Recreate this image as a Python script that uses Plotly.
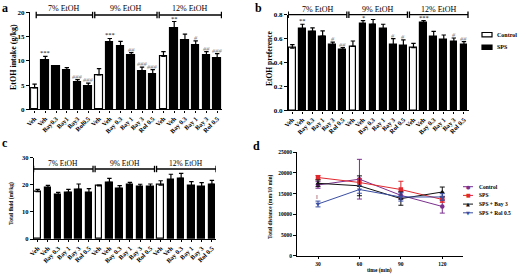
import plotly.graph_objects as go

W, H = 520, 275

# ---------------- data ----------------
labels_first = ["Veh", "Veh", "Bay0.3", "Bay1", "Bay3", "Rol0.5"]
labels_grp = ["Veh", "Veh", "Bay 0.3", "Bay 1", "Bay 3", "Rol 0.5"]
groups = ["7% EtOH", "9% EtOH", "12% EtOH"]
control_idx = [0, 6, 12]

intake = [4.4, 10.2, 8.8, 8.0, 5.5, 4.7, 7.1, 13.9, 13.0, 11.2, 7.9, 7.3, 10.9, 16.8, 14.3, 13.1, 11.2, 10.5]
intake_err = [0.8, 0.7, 0.2, 0.6, 0.6, 0.7, 1.3, 0.7, 1.0, 0.5, 0.8, 0.9, 1.0, 1.3, 1.2, 1.0, 0.7, 1.0]
intake_sig = ["", "***", "", "", "###", "###", "", "***", "", "##", "###", "###", "", "**", "", "#", "##", "###"]

pref = [0.52, 0.68, 0.66, 0.62, 0.545, 0.505, 0.535, 0.725, 0.72, 0.68, 0.55, 0.54, 0.525, 0.73, 0.615, 0.59, 0.575, 0.545]
pref_err = [0.03, 0.04, 0.03, 0.045, 0.025, 0.02, 0.045, 0.025, 0.04, 0.04, 0.05, 0.05, 0.035, 0.02, 0.045, 0.04, 0.03, 0.03]
pref_sig = ["", "**", "", "", "#", "##", "", "*", "", "", "#", "#", "", "***", "", "", "#", "##"]

fluid = [17.5, 18.8, 16.2, 17.2, 18.3, 17.0, 19.6, 20.9, 18.7, 19.9, 19.3, 19.3, 19.9, 21.8, 22.4, 19.7, 19.3, 20.2]
fluid_err = [0.8, 1.0, 1.0, 1.1, 2.0, 1.6, 0.3, 1.5, 1.0, 1.0, 0.9, 1.0, 1.6, 2.1, 1.8, 1.5, 1.5, 1.4]

times = [30, 60, 90, 120]
series_names = ["Control", "SPS", "SPS + Bay 3", "SPS + Rol 0.5"]
dist_control = [17100, 18500, 14600, 11900]
dist_control_err = [800, 4800, 900, 1600]
dist_sps = [18900, 17700, 16000, 13600]
dist_sps_err = [500, 900, 2000, 700]
dist_bay3 = [17500, 16900, 13800, 15400]
dist_bay3_err = [800, 2400, 1600, 1200]
dist_rol = [12500, 16000, 14200, 14200]
dist_rol_err = [700, 900, 1000, 800]

# ---------------- style ----------------
SERIF = "Liberation Serif"
series_colors = ["#7b2f8f", "#e0282e", "#111111", "#3a4ea3"]
series_symbols = ["circle", "square", "triangle-up", "triangle-down"]
legend_glyphs = ["●", "■", "▲", "▼"]


def px(x):
    return x / W


def py(y):
    return 1 - y / H


fig = go.Figure()
shapes = []
annotations = []

panels = [
    (intake, intake_err, intake_sig, "x", "y", 0.7),
    (pref, pref_err, pref_sig, "x2", "y2", 0.66),
    (fluid, fluid_err, None, "x3", "y3", 0.64),
]

for vals, errs, sig, xa, ya, bw in panels:
    sps_idx = [i for i in range(len(vals)) if i not in control_idx]
    for idx, col, name in [(control_idx, "white", "Control"), (sps_idx, "black", "SPS")]:
        fig.add_trace(go.Bar(
            x=idx, y=[vals[i] for i in idx], width=bw, name=name,
            marker=dict(color=col, line=dict(color="black", width=1.2)),
            error_y=dict(type="data", symmetric=False, array=[errs[i] for i in idx],
                         arrayminus=[0] * len(idx), color="black", thickness=1.2, width=2.2),
            xaxis=xa, yaxis=ya, showlegend=False,
        ))
    if sig:
        for i, s in enumerate(sig):
            if s:
                annotations.append(dict(
                    x=i, y=vals[i] + errs[i], xref=xa, yref=ya, text=s, showarrow=False,
                    xanchor="center", yanchor="bottom", yshift=-2,
                    font=dict(family=SERIF, size=6.5 if "*" in s else 6.5,
                              color="black" if "*" in s else "#808080",
                              style="normal" if "*" in s else "italic"),
                ))

# line chart panel d
dist_vals = [dist_control, dist_sps, dist_bay3, dist_rol]
dist_errs = [dist_control_err, dist_sps_err, dist_bay3_err, dist_rol_err]
for name, v, e, c, s in zip(series_names, dist_vals, dist_errs, series_colors, series_symbols):
    fig.add_trace(go.Scatter(
        x=times, y=v, mode="lines+markers", name=name,
        line=dict(color=c, width=1),
        marker=dict(color=c, symbol=s, size=4.5),
        error_y=dict(type="data", array=e, color=c, thickness=1, width=2.5),
        xaxis="x4", yaxis="y4", showlegend=False,
    ))

# ---------------- axes ----------------
axis_common = dict(showline=True, linecolor="black", linewidth=1.4, ticks="outside",
                   ticklen=3, tickwidth=1.2, tickcolor="black", showgrid=False, zeroline=False,
                   automargin=False)
tickfont = dict(family=SERIF, size=7, color="black", weight="bold")
xtickfont = dict(family=SERIF, size=6.5, color="black", weight="bold")

layout = dict(
    width=W, height=H, margin=dict(l=0, r=0, t=0, b=0),
    paper_bgcolor="white", plot_bgcolor="white", showlegend=False, bargap=0,
    xaxis=dict(domain=[px(30.1), px(222)], range=[-0.42, 17.45], tickvals=list(range(18)),
               ticktext=labels_first + labels_grp + labels_grp, tickangle=-45, tickfont=xtickfont,
               anchor="y", **{**axis_common, "ticklen": 2}),
    yaxis=dict(domain=[py(109.3), py(12.3)], range=[0, 20], tickvals=[0, 5, 10, 15, 20],
               tickfont=tickfont, anchor="x", **axis_common),
    xaxis2=dict(domain=[px(288), px(469)], range=[-0.43, 17.5], tickvals=list(range(18)),
                ticktext=labels_grp * 3, tickangle=-45, tickfont=xtickfont,
                anchor="y2", **{**axis_common, "ticklen": 2}),
    yaxis2=dict(domain=[py(110.3), py(14.7)], range=[0, 0.8], tickvals=[0, 0.2, 0.4, 0.6, 0.8],
                tickformat=".1f", tickfont=tickfont, anchor="x2", **axis_common),
    xaxis3=dict(domain=[px(34), px(216)], range=[-0.36, 17.4], tickvals=list(range(18)),
                ticktext=labels_grp * 3, tickangle=-45, tickfont=xtickfont,
                anchor="y3", **{**axis_common, "ticklen": 2}),
    yaxis3=dict(domain=[py(239), py(157.7)], range=[0, 30], tickvals=[0, 10, 20, 30],
                tickfont=dict(family=SERIF, size=6.5, color="black", weight="bold"),
                anchor="x3", **axis_common),
    xaxis4=dict(domain=[px(297.3), px(463)], range=[15, 135], tickvals=times,
                tickfont=dict(family=SERIF, size=5.5, color="black", weight="bold"),
                anchor="y4", **{**axis_common, "ticklen": 2.5}),
    yaxis4=dict(domain=[py(255.7), py(152.3)], range=[0, 25000],
                tickvals=[0, 5000, 10000, 15000, 20000, 25000], tickformat="d",
                tickfont=dict(family=SERIF, size=5.5, color="black", weight="bold"),
                anchor="x4", **axis_common),
)

# ---------------- group brackets ----------------
for xa, yline, ylab in [("x", 15.0, 8.5), ("x2", 14.7, 9.5), ("x3", 169.0, 163.5)]:
    for g, gname in enumerate(groups):
        s, e = 6 * g - 0.4, 6 * g + 5.4
        if g == 0 and xa == "x":
            s = 0.15
        shapes.append(dict(type="line", xref=xa, yref="paper", x0=s, x1=e,
                           y0=py(yline), y1=py(yline), line=dict(color="black", width=1.3)))
        for xc in (s, e):
            shapes.append(dict(type="line", xref=xa, yref="paper", x0=xc, x1=xc,
                               y0=py(yline - 3.2), y1=py(yline + 3.2),
                               line=dict(color="black", width=1.3)))
        annotations.append(dict(x=(s + e) / 2, y=py(ylab), xref=xa, yref="paper", text=gname,
                                showarrow=False, xanchor="center", yanchor="middle",
                                font=dict(family=SERIF, size=8 if xa != "x3" else 7.5, color="black")))

# ---------------- axis titles & panel letters ----------------
for text, x, y, size in [("EtOH intake (g/kg)", 13, 57, 8),
                         ("EtOH preference", 269, 58, 7.5),
                         ("Total fluid (ml/kg)", 11, 204, 5.5),
                         ("Total distance (mm/10 min)", 270, 207, 5.5)]:
    annotations.append(dict(x=px(x), y=py(y), xref="paper", yref="paper", text=text, textangle=-90,
                            showarrow=False, xanchor="center", yanchor="middle",
                            font=dict(family=SERIF, size=size, color="black", weight="bold")))
annotations.append(dict(x=px(379), y=py(270.5), xref="paper", yref="paper", text="time (min)",
                        showarrow=False, xanchor="center", yanchor="middle",
                        font=dict(family=SERIF, size=5.5, color="black", weight="bold")))
for letter, x, y in [("a", 5, 8), ("b", 258, 8), ("c", 5, 143), ("d", 256, 146)]:
    annotations.append(dict(x=px(x), y=py(y), xref="paper", yref="paper", text=letter,
                            showarrow=False, xanchor="center", yanchor="middle",
                            font=dict(family=SERIF, size=12, color="black", weight="bold")))

# small mark near first Rol point
annotations.append(dict(x=29, y=14300, xref="x4", yref="y4", text="‖", showarrow=False,
                        xanchor="center", yanchor="middle",
                        font=dict(family=SERIF, size=6, color="#333366")))

# ---------------- legend panel b (drawn) ----------------
for k, (name, fillc) in enumerate([("Control", "white"), ("SPS", "black")]):
    yc = 34.7 + 12.5 * k
    shapes.append(dict(type="rect", xref="paper", yref="paper", x0=px(482), x1=px(492),
                       y0=py(yc + 2.2), y1=py(yc - 2.2), fillcolor=fillc,
                       line=dict(color="black", width=1.2)))
    annotations.append(dict(x=px(494.5), y=py(yc), xref="paper", yref="paper", text=name,
                            showarrow=False, xanchor="left", yanchor="middle",
                            font=dict(family=SERIF, size=6, color="black", weight="bold")))

# ---------------- legend panel d (drawn) ----------------
for k, (name, c, gl) in enumerate(zip(series_names, series_colors, legend_glyphs)):
    yc = 186.7 + 8.7 * k
    shapes.append(dict(type="line", xref="paper", yref="paper", x0=px(463), x1=px(473),
                       y0=py(yc), y1=py(yc), line=dict(color=c, width=1)))
    annotations.append(dict(x=px(468), y=py(yc), xref="paper", yref="paper", text=gl,
                            showarrow=False, xanchor="center", yanchor="middle",
                            font=dict(family="DejaVu Sans", size=5, color=c)))
    annotations.append(dict(x=px(477), y=py(yc), xref="paper", yref="paper", text=name,
                            showarrow=False, xanchor="left", yanchor="middle",
                            font=dict(family=SERIF, size=5.5, color="black", weight="bold")))

layout["shapes"] = shapes
layout["annotations"] = annotations
fig.update_layout(**layout)
fig.write_html("out.html", config={"displayModeBar": False},
               post_script="document.body.style.margin='0';document.body.style.padding='0';")
